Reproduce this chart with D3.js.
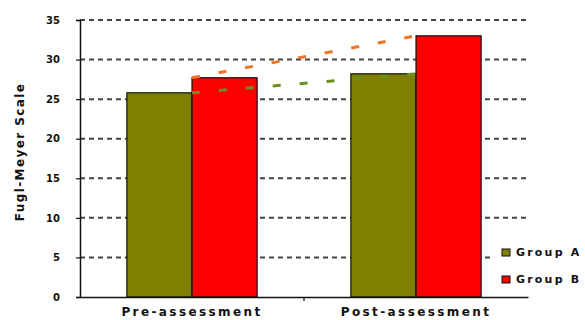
<!DOCTYPE html>
<html>
<head>
<meta charset="utf-8">
<script src="https://cdn.jsdelivr.net/npm/d3@7/dist/d3.min.js"></script>
<style>
  html, body { margin: 0; padding: 0; background: #fff; }
  svg { display: block; }
</style>
</head>
<body>
<svg id="chart" width="585" height="320"></svg>
<script>
// Fugl-Meyer scores per assessment phase and group
const categories = ["Pre-assessment", "Post-assessment"];
const groups = ["Group A", "Group B"];
const groupA = [25.8, 28.2];
const groupB = [27.7, 33.0];
const yTicks = [0, 5, 10, 15, 20, 25, 30, 35];

const colors = { "Group A": "#808000", "Group B": "#ff0000" };
const trendColors = { "Group A": "#6b8e23", "Group B": "#f07326" };

const svg = d3.select("#chart");
const plotLeft = 80, plotRight = 528, plotTop = 20, plotBottom = 297;

const x = d3.scaleBand().domain(categories).range([plotLeft, plotRight]).padding(0);
const xSub = d3.scaleBand().domain(groups).range([0, x.bandwidth()])
  .paddingInner(0).paddingOuter(0.72);
const y = d3.scaleLinear().domain([0, 35]).range([plotBottom, plotTop]);

const series = groups.map((g, i) => ({
  name: g,
  values: (i === 0 ? groupA : groupB).map((v, j) => ({ cat: categories[j], v }))
}));

// dashed horizontal gridlines
svg.append("g")
  .selectAll("line")
  .data(yTicks.filter(t => t > 0))
  .join("line")
  .attr("x1", plotLeft).attr("x2", plotRight)
  .attr("y1", d => y(d)).attr("y2", d => y(d))
  .attr("stroke", "#4d4040")
  .attr("stroke-width", 2)
  .attr("stroke-dasharray", "5,4");

// bars
svg.append("g")
  .selectAll("g")
  .data(series)
  .join("g")
  .attr("fill", d => colors[d.name])
  .selectAll("rect")
  .data(d => d.values.map(v => ({ ...v, name: d.name })))
  .join("rect")
  .attr("x", d => x(d.cat) + xSub(d.name))
  .attr("width", xSub.bandwidth())
  .attr("y", d => y(d.v))
  .attr("height", d => y(0) - y(d.v))
  .attr("stroke", "#111")
  .attr("stroke-width", 1.2);

// dashed trend lines joining the group centres
const line = d3.line()
  .x(d => x(d.cat) + x.bandwidth() / 2)
  .y(d => y(d.v));
svg.append("g")
  .selectAll("path")
  .data(series)
  .join("path")
  .attr("d", d => line(d.values))
  .attr("fill", "none")
  .attr("stroke", d => trendColors[d.name])
  .attr("stroke-width", 3)
  .attr("stroke-dasharray", "8,19");

// y axis
const yAxis = svg.append("g")
  .attr("transform", `translate(${plotLeft},0)`)
  .call(d3.axisLeft(y).tickValues(yTicks).tickSize(4).tickPadding(16));
yAxis.select(".domain").attr("stroke", "#111").attr("stroke-width", 1.5);
yAxis.selectAll(".tick line").attr("stroke", "#111").attr("stroke-width", 1.2);
yAxis.selectAll(".tick text")
  .attr("font-family", "DejaVu Sans, sans-serif")
  .attr("font-weight", "bold")
  .attr("font-size", 10)
  .attr("fill", "#111");

// x axis
const xAxis = svg.append("g")
  .attr("transform", `translate(0,${plotBottom})`)
  .call(d3.axisBottom(x).tickSize(0).tickPadding(10));
xAxis.select(".domain").attr("stroke", "#111").attr("stroke-width", 1.5);
xAxis.selectAll(".tick text")
  .attr("font-family", "DejaVu Sans, sans-serif")
  .attr("font-weight", "bold")
  .attr("font-size", 12)
  .attr("letter-spacing", 2.4)
  .attr("fill", "#111");

// divider tick between the two categories
svg.append("line")
  .attr("x1", x(categories[1])).attr("x2", x(categories[1]))
  .attr("y1", plotBottom).attr("y2", plotBottom + 4)
  .attr("stroke", "#111").attr("stroke-width", 1.2);

// y axis title
svg.append("text")
  .attr("transform", "translate(24,152) rotate(-90)")
  .attr("text-anchor", "middle")
  .attr("font-family", "DejaVu Sans, sans-serif")
  .attr("font-weight", "bold")
  .attr("font-size", 12)
  .attr("letter-spacing", 1.4)
  .attr("fill", "#111")
  .text("Fugl-Meyer Scale");

// legend
const legend = svg.append("g");
legend.append("rect")
  .attr("x", 490).attr("y", 238).attr("width", 95).attr("height", 56)
  .attr("fill", "#fff");
const items = legend.selectAll("g.item")
  .data(groups)
  .join("g")
  .attr("class", "item")
  .attr("transform", (d, i) => `translate(502,${249 + i * 27})`);
items.append("rect")
  .attr("width", 8).attr("height", 7)
  .attr("fill", d => colors[d])
  .attr("stroke", "#111").attr("stroke-width", 1);
items.append("text")
  .attr("x", 14).attr("y", 7)
  .attr("font-family", "DejaVu Sans, sans-serif")
  .attr("font-weight", "bold")
  .attr("font-size", 11)
  .attr("letter-spacing", 2.2)
  .attr("fill", "#111")
  .text(d => d);
</script>
</body>
</html>
